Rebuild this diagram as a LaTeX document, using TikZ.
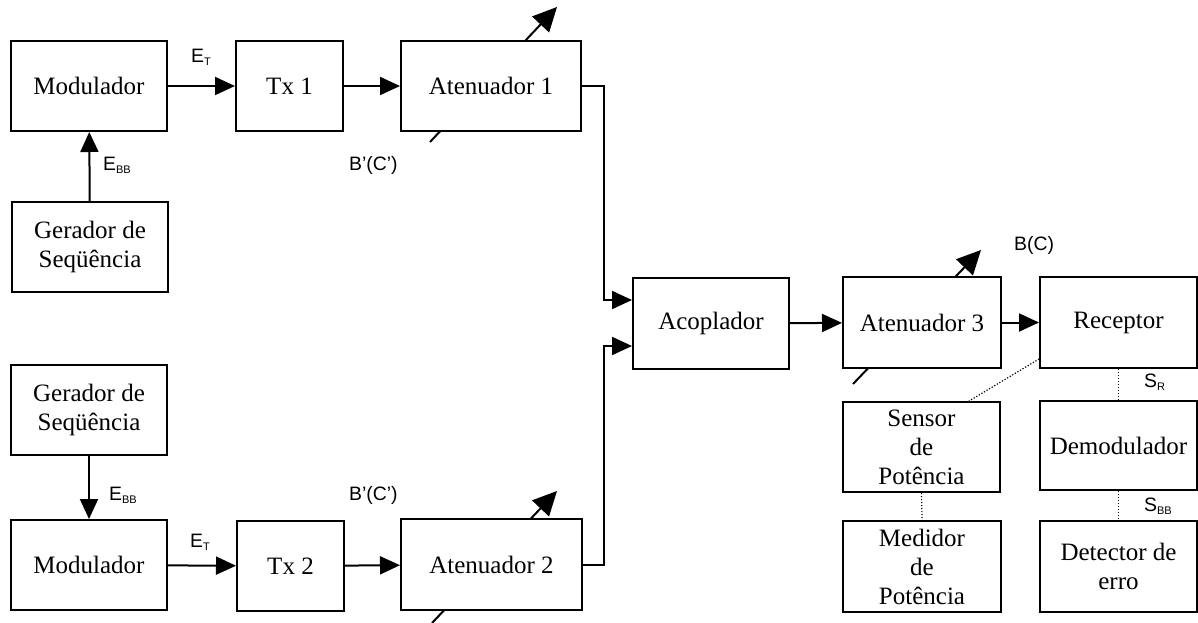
\documentclass[tikz,border=0pt]{standalone}
\usepackage{fontspec}
\setmainfont{Liberation Serif}
\newfontfamily\labfont{Liberation Sans}
\usetikzlibrary{arrows.meta,calc}
\newcommand{\lowtxt}[1]{\raisebox{-3pt}{\fontsize{11}{12}\selectfont #1}}
\tikzset{
  blk/.style={draw, line width=2pt, fill=white, inner sep=0pt, align=center,
    font=\fontsize{25}{29}\selectfont},
  lab/.style={anchor=west, inner sep=0pt, font=\labfont\fontsize{19.4}{22}\selectfont},
  conn/.style={line width=2pt, -{Triangle[length=20pt,width=18pt]}},
  dots/.style={line width=1.2pt, dash pattern=on 1.2pt off 1.8pt},
  varr/.style={line width=2pt, -{Triangle[length=24pt,width=23pt]}}
}
\begin{document}
\begin{tikzpicture}[x=1pt,y=-1pt]
\useasboundingbox (0,0) rectangle (1198,623);
% variable attenuator arrows (behind boxes)
\coordinate (a1s) at (430,142); \coordinate (a1e) at (557,7);
\coordinate (a2s) at (432,623); \coordinate (a2e) at (557,491);
\coordinate (a3s) at (853,384); \coordinate (a3e) at (981,250);
\draw[varr] (a1s) -- (a1e);
\draw[varr] (a2s) -- (a2e);
\draw[varr] (a3s) -- (a3e);
% boxes
\node[blk, minimum width=156pt, minimum height=90pt] (mod1) at (89,86) {Modulador};
\node[blk, minimum width=107pt, minimum height=90pt] (tx1) at (289.5,86) {Tx 1};
\node[blk, minimum width=180pt, minimum height=90pt] (at1) at (491,86) {Atenuador 1};
\node[blk, minimum width=156pt, minimum height=90pt] (gen1) at (90,247) {Gerador de\\Seqüência};
\node[blk, minimum width=156pt, minimum height=90pt] (gen2) at (89,410) {Gerador de\\Seqüência};
\node[blk, minimum width=156pt, minimum height=90pt] (mod2) at (89,565) {Modulador};
\node[blk, minimum width=107pt, minimum height=90pt] (tx2) at (290.5,566) {Tx 2};
\node[blk, minimum width=181pt, minimum height=91pt] (at2) at (491.5,564.5) {Atenuador 2};
\node[blk, minimum width=156pt, minimum height=91pt] (acop) at (711,323.5) {Acoplador};
\node[blk, minimum width=158pt, minimum height=91pt] (at3) at (922,322.5) {Atenuador 3};
\node[blk, minimum width=157pt, minimum height=91pt] (rec) at (1118.5,322.5) {Receptor};
\node[blk, minimum width=157pt, minimum height=90pt] (sens) at (921.5,447) {Sensor\\de\\Potência};
\node[blk, minimum width=158pt, minimum height=91pt] (med) at (922,566.5) {Medidor\\de\\Potência};
\node[blk, minimum width=157pt, minimum height=89pt] (dem) at (1118.5,445.5) {Demodulador};
\node[blk, minimum width=157pt, minimum height=91pt] (det) at (1118.5,566.5) {Detector de\\erro};
% connectors
\draw[conn] (mod1) -- (tx1);
\draw[conn] (tx1) -- (at1);
\draw[conn] (gen1) -- (mod1);
\draw[conn] (gen2) -- (mod2);
\draw[conn] (mod2) -- (tx2);
\draw[conn] (tx2) -- (at2);
\draw[conn] (at1.east) -- ++(22,0) |- ($(acop.west)+(0,-23.5)$);
\draw[conn] (at2.east) -- ++(21,0) |- ($(acop.west)+(0,22.5)$);
\draw[conn] (acop) -- (at3);
\draw[conn] (at3) -- (rec);
\draw[dots] ($(rec.south west)+(0,-10)$) -- ($(sens.north east)+(-32,0)$);
\draw[dots] (rec.south) -- (dem.north);
\draw[dots] (dem.south) -- (det.north);
\draw[dots] (sens.south) -- (med.north);
% labels
\node[lab] (lET1) at (191,57) {E\lowtxt{T}};
\node[lab] (lEBB1) at (103,165) {E\lowtxt{BB}};
\node[lab] (lB1) at (349,165) {B’(C’)};
\node[lab] (lEBB2) at (109,495) {E\lowtxt{BB}};
\node[lab] (lB2) at (349,495) {B’(C’)};
\node[lab] (lET2) at (190,542) {E\lowtxt{T}};
\node[lab] (lBC) at (1014,245) {B(C)};
\node[lab] (lSR) at (1144,382) {S\lowtxt{R}};
\node[lab] (lSBB) at (1144,506) {S\lowtxt{BB}};
\end{tikzpicture}
\end{document}
